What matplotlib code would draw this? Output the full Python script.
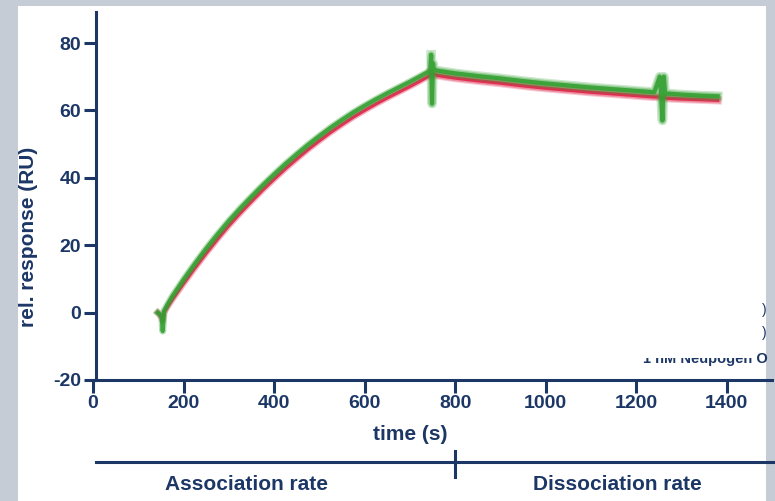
import matplotlib
matplotlib.use("Agg")
import matplotlib.pyplot as plt
from matplotlib.patches import Rectangle
from matplotlib.lines import Line2D

# ---------------- data ----------------
time_assoc = [143, 148, 152, 154, 157, 165, 175, 200, 225, 250, 275, 300, 325, 350,
              375, 400, 425, 450, 475, 500, 525, 550, 575, 600, 625, 650, 675,
              700, 725, 745]
green_assoc = [0.0, -0.5, -1.5, -5.5, 0.5, 2.5, 4.8, 9.8, 14.5, 19.0, 23.2, 27.2, 30.9,
               34.4, 37.8, 41.0, 44.1, 47.0, 49.8, 52.4, 54.9, 57.2, 59.4, 61.4,
               63.3, 65.1, 66.8, 68.5, 70.3, 71.8]
red_assoc = [0.0, -0.8, -1.8, -2.5, 0.0, 1.8, 3.8, 8.6, 13.2, 17.6, 21.8, 25.8, 29.5,
             33.0, 36.4, 39.6, 42.7, 45.6, 48.4, 51.0, 53.5, 55.8, 58.0, 60.0,
             61.9, 63.7, 65.4, 67.1, 68.9, 70.4]

time_dissoc = [747, 749, 751, 753, 760, 800, 850, 900, 950, 1000, 1050, 1100, 1150,
               1200, 1240, 1252, 1255, 1258, 1261, 1264, 1270, 1300, 1340, 1380]
green_dissoc = [76.5, 62.0, 74.0, 72.2, 71.8, 71.0, 70.2, 69.5, 68.7, 68.0, 67.4,
                66.8, 66.3, 65.8, 65.4, 70.0, 64.5, 57.0, 70.0, 64.8, 65.0, 64.7,
                64.4, 64.2]
red_dissoc = [71.5, 70.0, 71.0, 70.8, 70.4, 69.6, 68.8, 68.1, 67.3, 66.6, 66.0,
              65.4, 64.9, 64.4, 64.0, 64.0, 63.8, 63.5, 63.8, 63.7, 63.6, 63.4,
              63.2, 63.0]

x_ticks = [0, 200, 400, 600, 800, 1000, 1200, 1400]
y_ticks = [-20, 0, 20, 40, 60, 80]
phase_labels = ["Association rate", "Dissociation rate"]
phase_boundary = 800

# ---------------- style ----------------
NAVY = "#1c3766"
GREEN = "#34a031"
RED = "#e0234a"
FONT = ["Liberation Sans", "DejaVu Sans"]

W, H = 775, 501
fig = plt.figure(figsize=(W / 100, H / 100), dpi=100)
fig.patch.set_facecolor("#c5ccd5")

def fx(px):
    return px / W

def fy(py):
    return 1 - py / H

# white panel
fig.patches.append(Rectangle((fx(18), 0), fx(766) - fx(18), fy(6), transform=fig.transFigure,
                             facecolor="white", edgecolor="none", zorder=-5))

ax = fig.add_axes([fx(93), fy(380), fx(772) - fx(93), fy(12) - fy(380)])
ax.set_facecolor("none")
ax.set_zorder(1)

t_all = time_assoc + time_dissoc
g_all = green_assoc + green_dissoc
r_all = red_assoc + red_dissoc

# red traces (underneath)
ax.plot(t_all, r_all, color=RED, lw=4.5, alpha=0.35, solid_joinstyle="round", zorder=2)
ax.plot(time_dissoc, red_dissoc, color=RED, lw=6.0, alpha=0.25, zorder=2)
ax.plot(t_all, r_all, color=RED, lw=2.4, alpha=0.9, solid_joinstyle="round", zorder=3)
# green traces
ax.plot(t_all, g_all, color=GREEN, lw=5.0, alpha=0.35, solid_joinstyle="round", zorder=4)
ax.plot(time_dissoc, green_dissoc, color=GREEN, lw=7.0, alpha=0.25, zorder=4)
ax.plot(t_all, g_all, color=GREEN, lw=3.0, alpha=0.9, solid_joinstyle="round", zorder=5)

ax.set_xlim(0, 1500)
ax.set_ylim(-20, 89.2)
ax.set_xticks(x_ticks)
ax.set_yticks(y_ticks)
ax.set_xticklabels([str(v) for v in x_ticks])
ax.set_yticklabels([str(v) for v in y_ticks])

for s in ["top", "right"]:
    ax.spines[s].set_visible(False)
for s in ["left", "bottom"]:
    ax.spines[s].set_color(NAVY)
    ax.spines[s].set_linewidth(2.2)
ax.spines["left"].set_position(("data", 7))

ax.tick_params(axis="both", colors=NAVY, width=2.2, length=9, pad=2,
               labelsize=14, labelcolor=NAVY)
for lab in ax.get_xticklabels() + ax.get_yticklabels():
    lab.set_fontweight("bold")
    lab.set_family(FONT)

# axis titles
fig.text(fx(410), fy(435), "time (s)", ha="center", va="center", fontsize=15,
         fontweight="bold", color=NAVY, family=FONT)
fig.text(fx(29), fy(237), "rel. response (RU)", ha="center", va="center", rotation=90,
         fontsize=15, fontweight="bold", color=NAVY, family=FONT)

# phase annotation below the axis
fig.add_artist(Line2D([fx(96), fx(775)], [fy(462), fy(462)], color=NAVY, lw=2.2))
xb = fx(93) + (fx(772) - fx(93)) * phase_boundary / 1500
fig.add_artist(Line2D([xb, xb], [fy(451), fy(477)], color=NAVY, lw=2.2))
fig.text(fx(246), fy(485), phase_labels[0], ha="center", va="center", fontsize=15,
         fontweight="bold", color=NAVY, family=FONT)
fig.text(fx(617), fy(485), phase_labels[1], ha="center", va="center", fontsize=15,
         fontweight="bold", color=NAVY, family=FONT)

# partially hidden legend remnants at right
fig.text(fx(767), fy(310), ")", ha="right", va="center", fontsize=10, color=NAVY, family=FONT)
fig.text(fx(767), fy(333), ")", ha="right", va="center", fontsize=10, color=NAVY, family=FONT)
fig.text(fx(768), fy(359), "1 nM Neupogen O", ha="right", va="center", fontsize=10.5,
         fontweight="bold", color=NAVY, family=FONT)
fig.patches.append(Rectangle((fx(620), fy(358)), fx(755) - fx(620), fy(345) - fy(358),
                             transform=fig.transFigure, facecolor="white",
                             edgecolor="none", zorder=5))

fig.savefig("out.png", dpi=100, facecolor=fig.get_facecolor())
